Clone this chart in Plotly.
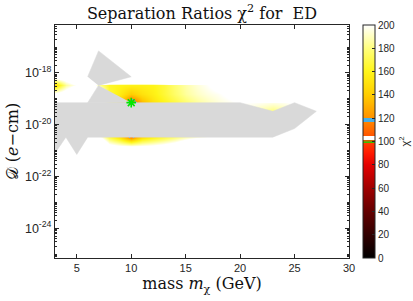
import math
import plotly.graph_objects as go

# ---------------- data ----------------
mass = [3, 4, 5, 6, 7, 8, 9, 10, 11, 12, 13, 14, 15, 16, 17, 18, 19, 20,
        21, 22, 23, 24, 25, 26, 27, 28, 29, 30]
log_d = [-25.15, -24.817, -24.483, -24.15, -23.817, -23.483, -23.15, -22.817,
         -22.483, -22.15, -21.817, -21.483, -21.15, -20.817, -20.483, -20.15,
         -19.817, -19.483, -19.15, -18.817, -18.483, -18.15, -17.817, -17.483,
         -17.15, -16.817, -16.483, -16.15]

saturated = 250  # chi^2 beyond the colour range (drawn white)

#            3    4    5    6    7    8    9   10   11   12   13   14   15   16   17   18   19   20   21   22   23   24   25   26   27   28   29   30
row_18_15 = [210, 215, 230, 300, 400, 400, 400, 400, 400, 400, 400, 400, 380, 330, 290, 250, 250, 250, 250, 250, 250, 250, 250, 250, 250, 250, 250, 250]
row_18_48 = [145, 185, 202, 230, 185, 163, 160, 158, 158, 160, 167, 178, 187, 194, 199, 206, 215, 225, 240, 250, 250, 250, 250, 250, 250, 250, 250, 250]
row_18_82 = [205, 215, 240, 260, 220, 168, 155, 140, 150, 157, 166, 176, 185, 191, 195, 198, 203, 212, 230, 250, 250, 250, 250, 250, 250, 250, 250, 250]
row_19_15 = [230, 250, 250, 250, 220, 180, 142, 100, 132, 150, 160, 168, 177, 184, 189, 194, 197, 200, 199, 197, 195, 197, 202, 215, 235, 250, 250, 250]
row_19_48 = [250, 250, 250, 250, 250, 250, 250, 250, 250, 250, 250, 250, 250, 250, 250, 250, 250, 200, 192, 186, 180, 186, 196, 210, 250, 250, 250, 250]
row_20_48 = [250, 250, 250, 250, 205, 170, 148, 113, 146, 158, 168, 178, 188, 195, 200, 210, 250, 250, 250, 250, 250, 250, 250, 250, 250, 250, 250, 250]
row_20_82 = [250, 250, 250, 250, 250, 208, 201, 198, 200, 203, 208, 215, 230, 250, 250, 250, 250, 250, 250, 250, 250, 250, 250, 250, 250, 250, 250, 250]

rows_by_logd = {-18.15: row_18_15, -18.483: row_18_48, -18.817: row_18_82,
                -19.15: row_19_15, -19.483: row_19_48, -20.483: row_20_48,
                -20.817: row_20_82}

# excluded (grey) regions, mass vs log10 D
kite_mass = [6, 7, 10, 7]
kite_logd = [-18.15, -17.15, -18.15, -18.483]
wedge_mass = [7, 6, 10]
wedge_logd = [-18.483, -19.15, -19.15]
band_mass = [3, 20, 23, 25, 27, 25, 23, 6, 5, 4, 3]
band_logd = [-19.15, -19.15, -19.483, -19.15, -19.483, -20.15, -20.483,
             -20.483, -21.15, -20.483, -21.1]

star_mass = [10]
star_logd = [-19.15]

x_ticks = [5, 10, 15, 20, 25, 30]
y_ticks = [-24, -22, -20, -18]
y_ticktext = ["10<sup>-24</sup>", "10<sup>-22</sup>", "10<sup>-20</sup>", "10<sup>-18</sup>"]
cbar_ticks = [0, 20, 40, 60, 80, 100, 120, 140, 160, 180, 200]

# colormap stops (chi^2 value, rgb)
cmap_vals = [0, 20, 40, 60, 80, 90, 100, 110, 120, 140, 160, 180, 200]
cmap_cols = [(0, 0, 0), (50, 0, 0), (100, 0, 0), (160, 0, 0), (228, 0, 0),
             (255, 25, 0), (255, 65, 0), (255, 105, 0), (255, 145, 0),
             (255, 205, 0), (255, 245, 25), (255, 255, 125), (255, 255, 255)]
# highlighted levels (lo, hi, rgb)
bands = [(98.5, 101.5, (0, 225, 0)), (101.5, 104.5, (255, 255, 255)),
         (116.5, 120.5, (70, 175, 235))]
zmax = 200.0

# ---------------- build ----------------
z = [rows_by_logd.get(v, [saturated] * len(mass)) for v in log_d]


def base_color(v):
    for i in range(len(cmap_vals) - 1):
        a, b = cmap_vals[i], cmap_vals[i + 1]
        if a <= v <= b:
            t = (v - a) / (b - a)
            c0, c1 = cmap_cols[i], cmap_cols[i + 1]
            return tuple(round(c0[k] + t * (c1[k] - c0[k])) for k in range(3))
    return cmap_cols[-1]


def rgb(c):
    return "rgb(%d,%d,%d)" % c


stops = [(v, base_color(v)) for v in cmap_vals]
for lo, hi, col in bands:
    stops = [s for s in stops if not (lo <= s[0] <= hi)]
    stops += [(lo, base_color(lo)), (lo, col), (hi, col), (hi, base_color(hi))]
stops.sort(key=lambda s: s[0])
colorscale = [[v / zmax, rgb(c)] for v, c in stops]

minor_y = []
for n in range(-26, -15):
    for k in range(1, 10):
        p = n + math.log10(k)
        if -25.15 <= p <= -16.15 and p not in y_ticks:
            minor_y.append(p)

fig = go.Figure()
fig.add_trace(go.Heatmap(
    x=mass, y=log_d, z=z, zmin=0, zmax=zmax, zsmooth="best",
    colorscale=colorscale, hoverinfo="skip",
    colorbar=dict(
        thickness=12, len=1, lenmode="fraction", x=(363 - 55) / 294,
        xanchor="left", xpad=0, ypad=0, y=0.5, yanchor="middle",
        outlinecolor="#262626", outlinewidth=1,
        tickvals=cbar_ticks, ticks="inside", ticklen=3, tickcolor="#262626",
        tickfont=dict(family="Liberation Sans", size=10, color="#262626"),
        title=dict(text="χ<sup>2</sup>", side="right",
                   font=dict(family="Liberation Sans", size=11, color="#262626")),
    ),
))

grey = "#d9d9d9"
for px, py in [(kite_mass, kite_logd), (wedge_mass, wedge_logd), (band_mass, band_logd)]:
    fig.add_trace(go.Scatter(x=px, y=py, mode="lines", fill="toself",
                             fillcolor=grey, line=dict(width=0.5, color=grey),
                             hoverinfo="skip", showlegend=False))

star_green = "#00e600"
fig.add_trace(go.Scatter(x=star_mass, y=star_logd, mode="markers",
                         marker=dict(symbol="asterisk-open", size=8, color=star_green,
                                     line=dict(width=1.6, color=star_green)),
                         showlegend=False, hoverinfo="skip"))

axis_common = dict(showgrid=False, zeroline=False, showline=True, linecolor="#262626",
                   linewidth=1, mirror="ticks", ticks="inside", ticklen=4,
                   tickcolor="#262626", automargin=False)

serif = "DejaVu Serif"
fig.update_layout(
    width=413, height=301,
    margin=dict(l=55, r=64, t=25, b=43, autoexpand=False),
    paper_bgcolor="white", plot_bgcolor="white",
    showlegend=False,
    title=dict(text="Separation Ratios χ<sup>2</sup> for  ED", xref="paper", x=0.5,
               xanchor="center", y=1 - 13 / 301, yanchor="middle", yref="container",
               font=dict(family=serif, size=16, color="#111111")),
    xaxis=dict(range=[3, 30], tickvals=x_ticks,
               tickfont=dict(family="Liberation Sans", size=11, color="#262626"),
               title=dict(text="mass <i>m</i><sub>χ</sub> (GeV)", standoff=3,
                          font=dict(family=serif, size=16, color="#111111")),
               **axis_common),
    yaxis=dict(range=[-25.15, -16.15], tickvals=y_ticks, ticktext=y_ticktext,
               tickfont=dict(family="Liberation Sans", size=12.5, color="#262626"),
               minor=dict(tickvals=minor_y, ticks="inside", ticklen=2, tickcolor="#262626"),
               title=dict(text="𝒟 (<i>e</i>−cm)", standoff=2,
                          font=dict(family=serif, size=16, color="#111111")),
               **axis_common),
)

fig.write_html("out.html", config={"displayModeBar": False},
               post_script="document.body.style.margin='0px';")
